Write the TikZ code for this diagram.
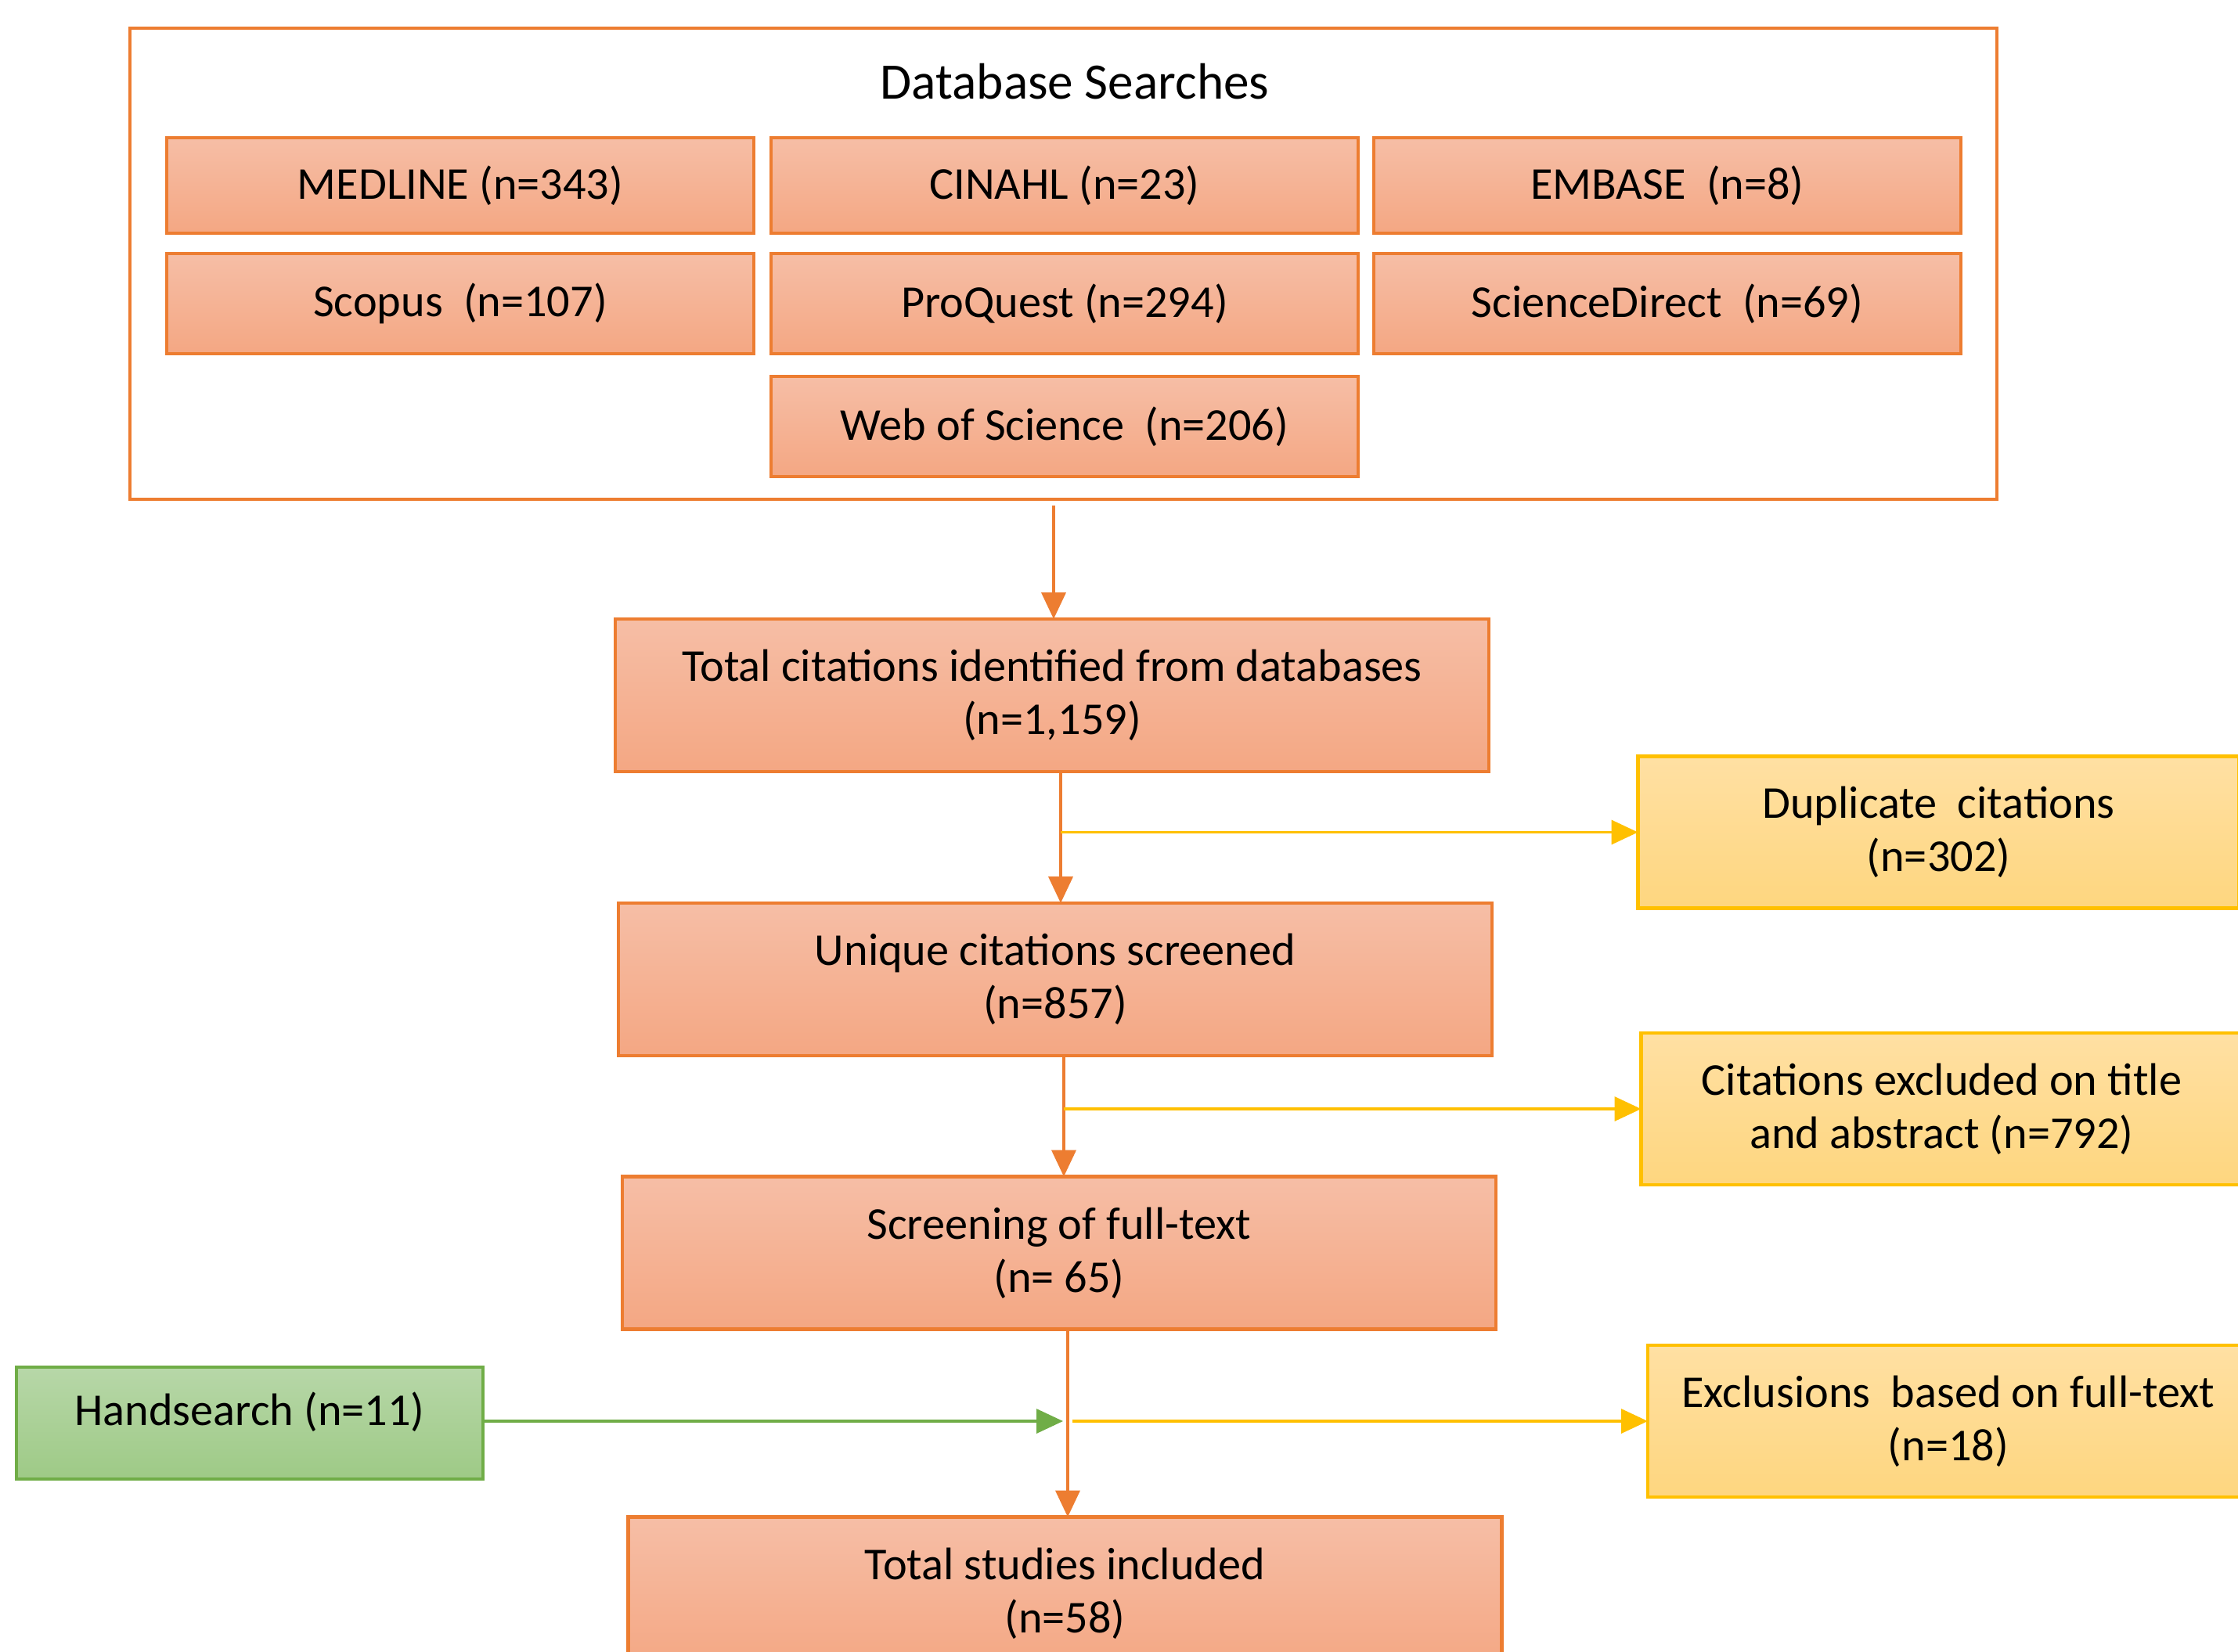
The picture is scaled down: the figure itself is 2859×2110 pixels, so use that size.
\documentclass[tikz,border=0pt]{standalone}
\usepackage{fontspec}
\setmainfont{Carlito}
\usetikzlibrary{arrows.meta}
\definecolor{obord}{HTML}{ED7D31}
\definecolor{otop}{HTML}{F6BEA6}
\definecolor{obot}{HTML}{F4A783}
\definecolor{ybord}{HTML}{FFC000}
\definecolor{ytop}{HTML}{FFE0A3}
\definecolor{ybot}{HTML}{FED67F}
\definecolor{gbord}{HTML}{70AD47}
\definecolor{gtop}{HTML}{B7D7A8}
\definecolor{gbot}{HTML}{9ECA86}
\begin{document}
\begin{tikzpicture}[x=1bp,y=-1bp,
  box/.style={rectangle, inner sep=0pt, outer sep=0pt, align=center,
    font=\fontsize{58.5}{68}\selectfont, line width=4.5bp},
  obox/.style={box, draw=obord, top color=otop, bottom color=obot},
  ybox/.style={box, draw=ybord, top color=ytop, bottom color=ybot},
  gbox/.style={box, draw=gbord, top color=gtop, bottom color=gbot},
  dbrow/.style={obox, minimum width=750bp, minimum height=122bp},
  dbrowb/.style={obox, minimum width=750bp, minimum height=128bp},
  mainbox/.style={obox, minimum width=1116bp, minimum height=195bp},
  sidebox/.style={ybox, minimum width=768bp, minimum height=194bp},
  oarrow/.style={draw=obord, line width=4bp, -{Triangle[length=34bp,width=31bp]}},
  yarrow/.style={draw=ybord, line width=3.5bp, -{Triangle[length=34bp,width=31bp]}},
  garrow/.style={draw=gbord, line width=3.5bp, -{Triangle[length=34bp,width=31bp]}}
]
\useasboundingbox (0,0) rectangle (2859,2110);
\clip (0,0) rectangle (2859,2110);

% outer database box
\node[rectangle, draw=obord, line width=3.5bp, fill=white, inner sep=0pt, outer sep=0pt,
  minimum width=2385bp, minimum height=602bp] (dbs) at (1358.5,337) {};
\node[font=\fontsize{65.5}{77}\selectfont, inner sep=0pt] (title) at (1373,104) {Database Searches};

\node[dbrow] (med) at (588,237) {MEDLINE (n=343)};
\node[dbrow] (cin) at (1360,237) {CINAHL (n=23)};
\node[dbrow] (emb) at (2130,237) {EMBASE~ (n=8)};
\node[dbrowb] (sco) at (588,388) {Scopus~ (n=107)};
\node[dbrowb] (pro) at (1360,388) {ProQuest (n=294)};
\node[dbrowb] (sd) at (2130,388) {ScienceDirect~ (n=69)};
\node[dbrowb] (wos) at (1360,545) {Web of Science~ (n=206)};

% main flow
\node[mainbox] (tot) at (1344,888.5) {Total citations identified from databases\\(n=1,159)};
\node[mainbox] (uni) at (1348,1251.5) {Unique citations screened\\(n=857)};
\node[mainbox] (scr) at (1353,1601) {Screening of full-text\\(n= 65)};
\node[mainbox] (inc) at (1360.5,2036) {Total studies included\\(n=58)};

% side boxes
\node[sidebox] (dup) at (2476.5,1063.5) {Duplicate~ citations\\(n=302)};
\node[sidebox] (cex) at (2480.5,1417) {Citations excluded on title\\and abstract (n=792)};
\node[sidebox] (exf) at (2489,1816) {Exclusions~ based on full-text\\(n=18)};

\node[gbox, minimum width=596bp, minimum height=143bp, text depth=36bp] (hand) at (319,1818.5) {Handsearch (n=11)};

% arrow columns
\coordinate (a1) at (1346,0);
\coordinate (a2) at (1355,0);
\coordinate (a3) at (1359,0);
\coordinate (a4) at (1364,0);

\draw[oarrow, shorten <=8bp] (dbs.south -| a1) -- (tot.north -| a1);
\draw[oarrow] (tot.south -| a2) -- (uni.north -| a2);
\draw[oarrow] (uni.south -| a3) -- (scr.north -| a3);
\draw[oarrow] (scr.south -| a4) -- (inc.north -| a4);

\draw[yarrow] (a2 |- dup.west) -- (dup.west);
\draw[yarrow] (a3 |- cex.west) -- (cex.west);
\draw[yarrow, shorten <=6bp] (a4 |- exf.west) -- (exf.west);
\draw[garrow, shorten >=6bp] (hand.east |- exf.west) -- (a4 |- exf.west);
\end{tikzpicture}
\end{document}
